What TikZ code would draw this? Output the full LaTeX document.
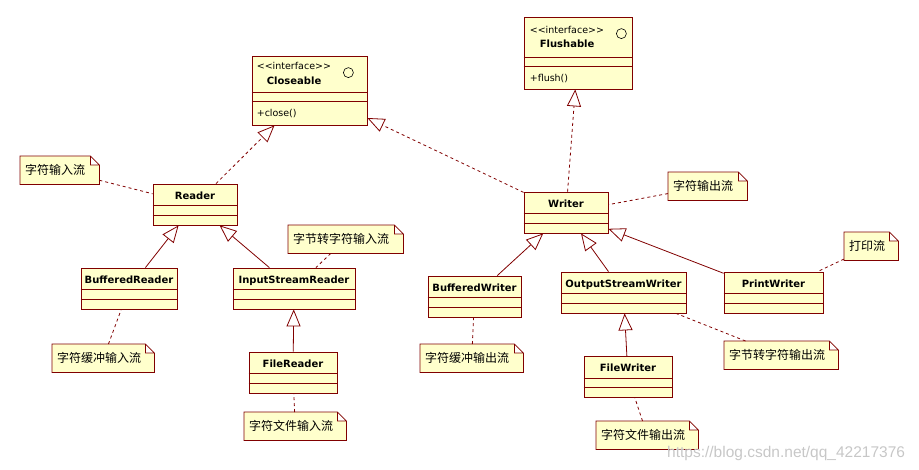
\documentclass[tikz,border=0pt]{standalone}
\usepackage{fontspec}
\setmainfont{DejaVu Sans}
\newfontfamily\cjk{Noto Sans CJK SC}
\newfontfamily\urlfont{Liberation Sans}
\usetikzlibrary{arrows.meta,positioning,calc,backgrounds}

\definecolor{umlred}{RGB}{128,0,0}
\definecolor{umlfill}{RGB}{255,255,204}

\tikzset{
	classbox/.style={draw=umlred, fill=umlfill, line width=0.8pt, inner xsep=0pt, inner ysep=0pt, minimum width=#1, text height=15pt, text depth=26pt, font=\fontsize{10}{12}\selectfont\bfseries},
	ifacebox/.style={draw=umlred, fill=umlfill, line width=0.8pt, inner sep=0pt, minimum width=#1},
	ifacetext/.style={anchor=base west, inner sep=0pt, font=\fontsize{9.5}{11}\selectfont},
	notebox/.style={anchor=north west, text width=#1, align=left, inner xsep=5pt, inner ysep=0pt, minimum height=28pt, font=\cjk\fontsize{12}{14}\selectfont},
	noteframe/.style={draw=umlred, fill=umlfill, line width=0.8pt},
	sepline/.style={draw=umlred, line width=0.8pt},
	extends/.style={draw=umlred, line width=0.8pt, -{Triangle[open, length=17pt, width=14pt]}},
	implements/.style={extends, dash pattern=on 3pt off 3pt},
	noteline/.style={draw=umlred, line width=0.8pt, dash pattern=on 3pt off 3pt},
}

\begin{document}
\begin{tikzpicture}[x=1pt,y=-1pt]
	\useasboundingbox (0,0) rectangle (919,469);
	%Interfaces%
	%===========================================================
	\node[ifacebox=115pt, minimum height=69pt] (closeable) at (309.5,90.5) {}; %Closeable box
	\node[ifacetext] (closeable-st) at ($(closeable.north west)+(5,13.5)$) {<{}<interface>{}>};
	\node[ifacetext, font=\fontsize{10}{12}\selectfont\bfseries] (closeable-nm) at ($(closeable.north west)+(15,28.6)$) {Closeable};
	\node[ifacetext] (closeable-op) at ($(closeable.north west)+(5,60.5)$) {+close()};
	\draw[black, line width=0.6pt] ($(closeable.north east)+(-19,17)$) circle (5); %interface mark
	\draw[sepline] ($(closeable.north west)+(0,37)$) -- ($(closeable.north east)+(0,37)$);
	\draw[sepline] ($(closeable.north west)+(0,46)$) -- ($(closeable.north east)+(0,46)$);

	\node[ifacebox=108pt, minimum height=72pt] (flushable) at (578,53) {}; %Flushable box
	\node[ifacetext] (flushable-st) at ($(flushable.north west)+(6,17)$) {<{}<interface>{}>};
	\node[ifacetext, font=\fontsize{10}{12}\selectfont\bfseries] (flushable-nm) at ($(flushable.north west)+(16,30.5)$) {Flushable};
	\node[ifacetext] (flushable-op) at ($(flushable.north west)+(6,64.5)$) {+flush()};
	\draw[black, line width=0.6pt] ($(flushable.north east)+(-11,17)$) circle (5); %interface mark
	\draw[sepline] ($(flushable.north west)+(0,41)$) -- ($(flushable.north east)+(0,41)$);
	\draw[sepline] ($(flushable.north west)+(0,50)$) -- ($(flushable.north east)+(0,50)$);

	%Classes%
	%===========================================================
	\node[classbox=84pt] (reader) at (195,204.5) {Reader};
	\node[classbox=96pt] (bufreader) at (129,288.5) {BufferedReader};
	\node[classbox=122pt] (isreader) at (294,288.5) {InputStreamReader};
	\node[classbox=88pt] (filereader) at (293,372.5) {FileReader};
	\node[classbox=84pt] (writer) at (566,212.5) {Writer};
	\node[classbox=93pt] (bufwriter) at (474.5,296.5) {BufferedWriter};
	\node[classbox=125pt] (oswriter) at (623.5,292.5) {OutputStreamWriter};
	\node[classbox=99pt] (printwriter) at (773.5,292.5) {PrintWriter};
	\node[classbox=88pt] (filewriter) at (628,377) {FileWriter};
	\foreach \c in {reader,bufreader,isreader,filereader,writer,bufwriter,oswriter,printwriter,filewriter}{
		\draw[sepline] ($(\c.north west)+(0,22)$) -- ($(\c.north east)+(0,22)$); %attribute line
		\draw[sepline] ($(\c.north west)+(0,31.5)$) -- ($(\c.north east)+(0,31.5)$); %operation line
	}

	%Notes%
	%===========================================================
	\node[notebox=69pt] (nreader) at (20,156) {字符输入流};
	\node[notebox=105pt] (nisreader) at (288,225) {字节转字符输入流};
	\node[notebox=92pt] (nbufreader) at (52,344) {字符缓冲输入流};
	\node[notebox=92pt] (nfilereader) at (244,412) {字符文件输入流};
	\node[notebox=69pt] (nwriter) at (668,172) {字符输出流};
	\node[notebox=93pt] (nbufwriter) at (420,344) {字符缓冲输出流};
	\node[notebox=104pt] (noswriter) at (724,341) {字节转字符输出流};
	\node[notebox=92pt] (nfilewriter) at (596,421) {字符文件输出流};
	\node[notebox=44pt] (nprintwriter) at (844,232) {打印流};
	\begin{scope}[on background layer]
		\foreach \n in {nreader,nisreader,nbufreader,nfilereader,nwriter,nbufwriter,noswriter,nfilewriter,nprintwriter}
			\draw[noteframe] (\n.north west) -- ($(\n.north east)+(-9,0)$) -- ($(\n.north east)+(0,9)$) -- (\n.south east) -- (\n.south west) -- cycle
				($(\n.north east)+(-9,0)$) |- ($(\n.north east)+(0,9)$); %folded corner
	\end{scope}

	%Connectors%
	%===========================================================
	\draw[implements] (reader) -- (closeable);
	\draw[implements] (writer) -- (closeable);
	\draw[implements] (writer) -- (flushable);
	\draw[extends] (bufreader) -- (reader);
	\draw[extends] (isreader) -- (reader);
	\draw[extends] (filereader) -- (isreader);
	\draw[extends] (bufwriter) -- (writer);
	\draw[extends] (oswriter) -- (writer);
	\draw[extends] (printwriter) -- (writer);
	\draw[extends] (filewriter) -- (oswriter);
	\foreach \n/\c in {nreader/reader,nisreader/isreader,nbufreader/bufreader,nfilereader/filereader,nwriter/writer,nbufwriter/bufwriter,noswriter/oswriter,nfilewriter/filewriter,nprintwriter/printwriter}
		\draw[noteline] (\n) -- (\c);

	% watermark
	\node[anchor=base west, inner sep=0pt, text=black!22, font=\urlfont\fontsize{15.5}{18}\selectfont] (wmark) at (667,457) {https://blog.csdn.net/qq\_42217376};
\end{tikzpicture}
\end{document}
